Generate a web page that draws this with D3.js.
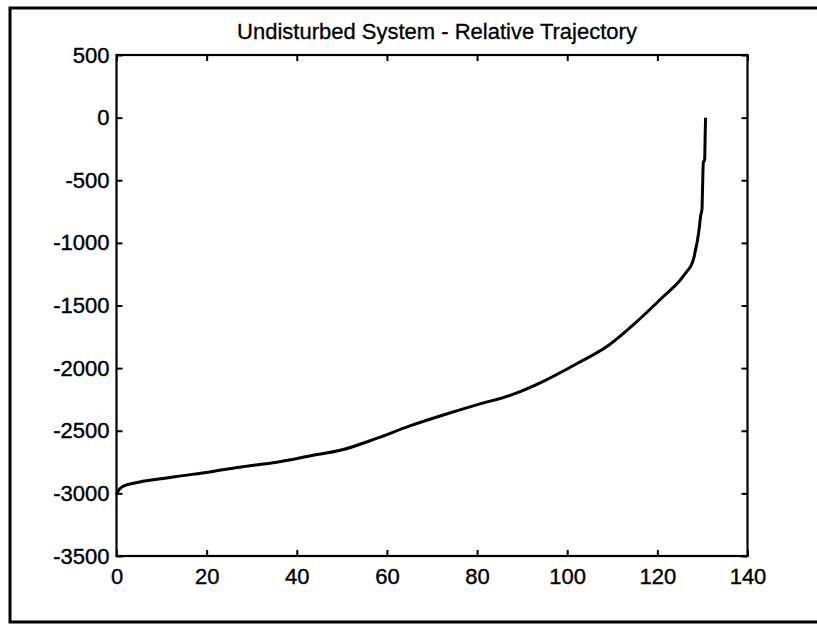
<!DOCTYPE html>
<html>
<head>
<meta charset="utf-8">
<script src="https://cdn.jsdelivr.net/npm/d3@7"></script>
<style>
    html, body { margin: 0; padding: 0; background: #fff; }
    svg { display: block; font-family: "Liberation Sans", Arial, Helvetica, sans-serif; }
</style>
</head>
<body>
<svg id="chart" width="817" height="625"></svg>
<script>
// values
let trajX = [0, 0.3, 1.4, 3, 5.8, 9, 13.3, 20.7, 28, 35.5, 42.9, 50.3, 57.7, 65.1, 72.5, 79.9, 87.3, 94.7, 102.2, 109.2,
    114.7, 121.4, 125, 126.6, 127.5, 128.1, 128.5, 128.8, 129.3, 129.6, 129.9, 130.0, 130.2, 130.5, 130.6, 130.7];
let trajY = [-3010, -2985, -2945, -2925, -2904, -2888, -2865, -2829, -2787, -2751, -2701, -2650, -2561, -2461, -2374, -2293, -2218, -2105, -1963, -1817,
    -1653, -1426, -1300, -1226, -1180, -1120, -1050, -1000, -880, -786, -733, -600, -360, -333, -150, 0];
let xTicks = [0, 20, 40, 60, 80, 100, 120, 140];
let yTicks = [500, 0, -500, -1000, -1500, -2000, -2500, -3000, -3500];
let titleText = 'Undisturbed System - Relative Trajectory';

const svg = d3.select('#chart');
const box = {left: 116.5, right: 747.5, top: 55, bottom: 556};

let x = d3.scaleLinear().domain([0, 140]).range([box.left, box.right]);
let y = d3.scaleLinear().domain([-3500, 500]).range([box.bottom, box.top]);

// outer figure frame (right edge falls off the scan)
svg.append('rect')
    .attr('x', 10).attr('y', 8)
    .attr('width', 840).attr('height', 614)
    .attr('fill', 'none').attr('stroke', '#000').attr('stroke-width', 3);

// title
svg.append('text')
    .attr('x', 437).attr('y', 39)
    .attr('text-anchor', 'middle')
    .attr('font-size', 22)
    .attr('stroke', '#000').attr('stroke-width', 0.3)
    .text(titleText);

// axes with inward ticks, matlab style box
let tickLen = 6;
let plainNum = d => String(d);
svg.append('g')
    .attr('transform', 'translate(0,' + box.bottom + ')')
    .call(d3.axisBottom(x).tickValues(xTicks).tickSizeInner(-tickLen).tickSizeOuter(0).tickPadding(12).tickFormat(plainNum));
svg.append('g')
    .attr('transform', 'translate(' + box.left + ',0)')
    .call(d3.axisLeft(y).tickValues(yTicks).tickSizeInner(-tickLen).tickSizeOuter(0).tickPadding(7).tickFormat(plainNum));
svg.append('g')
    .attr('transform', 'translate(0,' + box.top + ')')
    .call(d3.axisTop(x).tickValues(xTicks).tickSizeInner(-tickLen).tickSizeOuter(0).tickFormat(''));
svg.append('g')
    .attr('transform', 'translate(' + box.right + ',0)')
    .call(d3.axisRight(y).tickValues(yTicks).tickSizeInner(-tickLen).tickSizeOuter(0).tickFormat(''));

svg.selectAll('.domain').remove();
svg.selectAll('.tick line').attr('stroke', '#000').attr('stroke-width', 2);
svg.selectAll('.tick text')
    .attr('font-family', '"Liberation Sans", Arial, sans-serif')
    .attr('font-size', 22)
    .attr('fill', '#000')
    .attr('stroke', '#000').attr('stroke-width', 0.4);

svg.append('rect')
    .attr('x', box.left).attr('y', box.top)
    .attr('width', box.right - box.left).attr('height', box.bottom - box.top)
    .attr('fill', 'none').attr('stroke', '#000').attr('stroke-width', 2.2);

// trajectory
let pts = trajX.map((d, i) => [d, trajY[i]]);
let line = d3.line().x(d => x(d[0])).y(d => y(d[1])).curve(d3.curveMonotoneX);
svg.append('path')
    .datum(pts)
    .attr('d', line)
    .attr('fill', 'none')
    .attr('stroke', '#000')
    .attr('stroke-width', 3)
    .attr('stroke-linejoin', 'round');
</script>
</body>
</html>
